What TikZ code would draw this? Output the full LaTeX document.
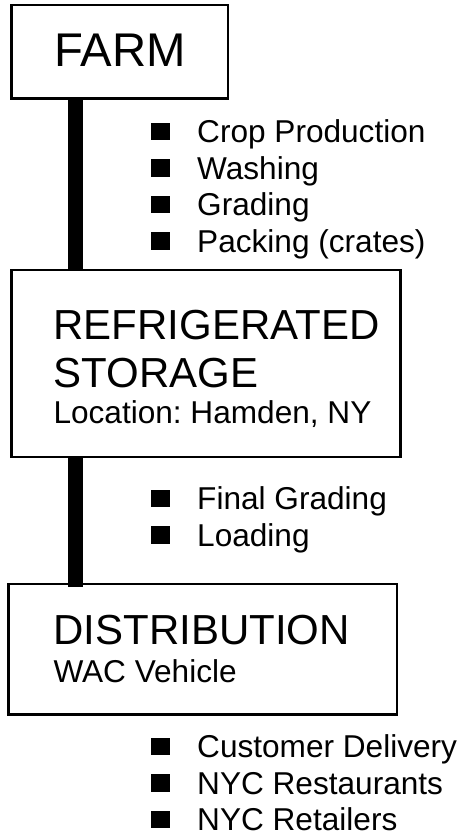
\documentclass[tikz,border=0pt]{standalone}
\usepackage{fontspec}
\setmainfont{Liberation Sans}
\frenchspacing
\begin{document}
\begin{tikzpicture}[x=1pt,y=-1pt,
  box/.style={draw=black, line width=2.6pt, fill=white, rectangle, inner sep=0pt},
  bigtxt/.style={anchor=base west, inner sep=0pt, font=\fontsize{42}{48}\selectfont\frenchspacing},
  midtxt/.style={anchor=base west, inner sep=0pt, font=\fontsize{31.6}{36}\selectfont\frenchspacing},
  bullet/.style={fill=black, rectangle, inner sep=0pt, minimum width=18.5pt, minimum height=17.5pt},
  bar/.style={line width=15pt, line cap=butt, draw=black}]
\useasboundingbox (0,0) rectangle (462,837);
\fill[white] (0,0) rectangle (462,837);
\coordinate (bx) at (75.2,0);
% boxes
\node[box, minimum width=216.6pt, minimum height=93.6pt] (farm) at (119.5,52) {};
\node[box, minimum width=389pt, minimum height=187pt] (store) at (205.8,363.5) {};
\node[box, minimum width=388.3pt, minimum height=130.5pt] (dist) at (202.85,649.25) {};
% connectors
\draw[bar, shorten >=-2.5pt] (farm.south -| bx) -- (store.north -| bx);
\draw[bar, shorten >=-4.5pt] (store.south -| bx) -- (dist.north -| bx);
% box texts
\node[anchor=base, inner sep=0pt, font=\fontsize{47.3}{54}\selectfont] (farmtxt) at (120,66.7) {FARM};
\node[bigtxt] (st1) at (53.3,339) {REFRIGERATED};
\node[bigtxt] (st2) at (53.3,387) {STORAGE};
\node[midtxt] (st3) at (53.3,423) {Location: Hamden, NY};
\node[bigtxt] (ds1) at (53.3,644) {DISTRIBUTION};
\node[midtxt] (ds2) at (53.3,682) {WAC Vehicle};
% bullet lists
\foreach \y/\t/\n in {142.5/Crop Production/a1, 179/Washing/a2, 215.5/Grading/a3, 252/Packing (crates)/a4,
                      509.5/Final Grading/b1, 546/Loading/b2,
                      757.5/Customer Delivery/c1, 794/NYC Restaurants/c2, 830.5/NYC Retailers/c3}{
  \node[bullet] (sq\n) at (160.5,\y-11) {};
  \node[midtxt] (tx\n) at (197,\y) {\t};
}
\end{tikzpicture}
\end{document}
